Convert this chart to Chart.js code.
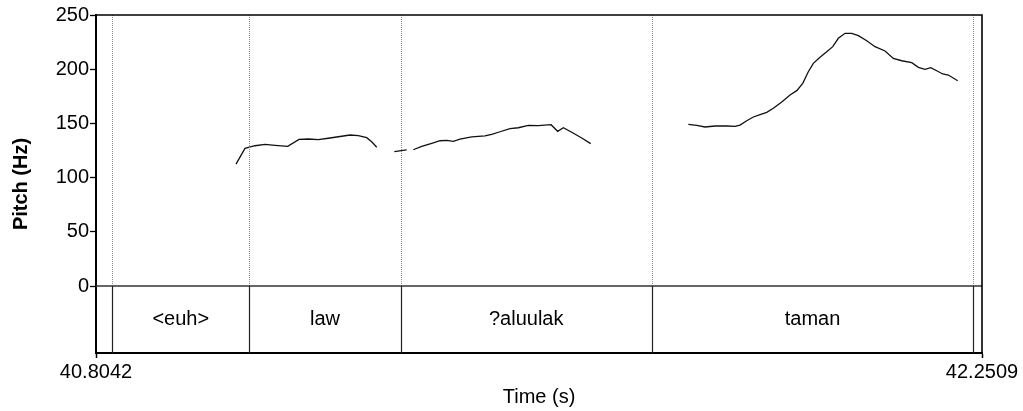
<!DOCTYPE html>
<html>
<head>
<meta charset="utf-8">
<script src="https://cdn.jsdelivr.net/npm/chart.js@4/dist/chart.umd.min.js"></script>
<style>
  html, body { margin: 0; padding: 0; background: #fff; }
  canvas { display: block; }
</style>
</head>
<body>
<canvas id="pitch" width="1023" height="411"></canvas>
<script>
// Visible time window (s)
const timeStart = 40.8042;
const timeEnd = 42.2509;

// Pitch track, one array per voiced stretch: time (s) and F0 (Hz)
const seg1Time = [41.0328, 41.0475, 41.0638, 41.0802, 41.0965, 41.1172, 41.1357, 41.1509, 41.1672, 41.1835, 41.1999, 41.2190, 41.2325, 41.2462, 41.2544, 41.2626];
const seg1Hz   = [112.5, 127.0, 129.4, 130.7, 129.8, 128.9, 135.3, 135.6, 135.0, 136.3, 137.7, 139.3, 138.7, 136.8, 133.1, 128.0];

const seg2Time = [41.2913, 41.3115];
const seg2Hz   = [123.9, 125.5];

const seg3Time = [41.3223, 41.3360, 41.3524, 41.3659, 41.3769, 41.3876, 41.3986, 41.4177, 41.4394, 41.4503, 41.4639, 41.4802, 41.4938, 41.5101, 41.5264, 41.5472, 41.5581, 41.5673, 41.5810, 41.5973, 41.6120];
const seg3Hz   = [125.7, 128.9, 131.6, 134.0, 134.4, 133.5, 135.6, 137.5, 138.4, 139.9, 142.3, 145.1, 146.0, 148.2, 147.9, 148.8, 142.7, 146.0, 141.8, 136.5, 131.3];

const seg4Time = [41.7714, 41.7851, 41.7986, 41.8150, 41.8341, 41.8476, 41.8558, 41.8667, 41.8775, 41.8885, 41.8994, 41.9102, 41.9239, 41.9374, 41.9484, 41.9582, 41.9673, 41.9755, 41.9864, 41.9974, 42.0072, 42.0163, 42.0273, 42.0382, 42.0490, 42.0627, 42.0762, 42.0926, 42.1061, 42.1198, 42.1362, 42.1470, 42.1579, 42.1672, 42.1770, 42.1868, 42.1959, 42.2113];
const seg4Hz   = [149.2, 148.2, 146.7, 147.6, 147.6, 147.3, 148.5, 152.5, 155.9, 158.0, 160.2, 163.9, 169.7, 176.2, 180.2, 187.0, 197.7, 205.4, 211.0, 216.1, 220.8, 228.5, 233.1, 233.1, 230.9, 226.3, 220.8, 216.8, 210.0, 207.8, 206.0, 201.7, 199.9, 201.4, 198.6, 195.6, 194.6, 189.4];

// Word tier: boundary times and the word in each interval between them
const tierBoundaries = [40.8308, 41.0545, 41.3017, 41.7116, 42.2368];
const tierWords = ["<euh>", "law", "?aluulak", "taman"];

// Axis ticks
const pitchTicks = [0, 50, 100, 150, 200, 250];
const timeTicks = [timeStart, timeEnd];

const pitchMax = 250;
const tierBottom = -61.8;   // the tier sits below 0 Hz on the same vertical scale

function toPoints(ts, hz) {
  return ts.map((t, i) => ({ x: t, y: hz[i] }));
}

const segments = [
  toPoints(seg1Time, seg1Hz),
  toPoints(seg2Time, seg2Hz),
  toPoints(seg3Time, seg3Hz),
  toPoints(seg4Time, seg4Hz)
];

const FONT = "'Liberation Sans', Arial, Helvetica, sans-serif";

// Frame, 0-Hz line, interval boundaries and word labels
const tierPlugin = {
  id: 'tierPlugin',
  afterDatasetsDraw(chart) {
    const { ctx, chartArea: a, scales: { x, y } } = chart;
    const y0 = y.getPixelForValue(0);
    const yTop = y.getPixelForValue(pitchMax);
    const yBot = y.getPixelForValue(tierBottom);
    ctx.save();

    // dotted boundary lines through the pitch area
    ctx.strokeStyle = '#8a8a8a';
    ctx.lineWidth = 1;
    ctx.setLineDash([1, 1]);
    tierBoundaries.forEach(t => {
      const px = Math.round(x.getPixelForValue(t)) + 0.5;
      ctx.beginPath();
      ctx.moveTo(px, yTop);
      ctx.lineTo(px, y0);
      ctx.stroke();
    });
    ctx.setLineDash([]);

    // solid boundary lines inside the tier
    ctx.strokeStyle = '#222';
    ctx.lineWidth = 1.2;
    tierBoundaries.forEach(t => {
      const px = Math.round(x.getPixelForValue(t)) + 0.5;
      ctx.beginPath();
      ctx.moveTo(px, y0);
      ctx.lineTo(px, yBot);
      ctx.stroke();
    });

    // 0 Hz line separating the pitch area from the tier
    ctx.strokeStyle = '#333';
    ctx.lineWidth = 1.3;
    ctx.beginPath();
    ctx.moveTo(a.left, y0);
    ctx.lineTo(a.right, y0);
    ctx.stroke();

    // top and right edges of the frame
    ctx.strokeStyle = '#000';
    ctx.lineWidth = 1.6;
    ctx.beginPath();
    ctx.moveTo(a.left, a.top);
    ctx.lineTo(a.right, a.top);
    ctx.lineTo(a.right, a.bottom);
    ctx.stroke();

    // words centred in their intervals
    ctx.fillStyle = '#000';
    ctx.font = '20px ' + FONT;
    ctx.textAlign = 'center';
    ctx.textBaseline = 'middle';
    const yMid = y.getPixelForValue(tierBottom / 2);
    tierWords.forEach((w, i) => {
      const xc = (x.getPixelForValue(tierBoundaries[i]) + x.getPixelForValue(tierBoundaries[i + 1])) / 2;
      ctx.fillText(w, xc, yMid);
    });
    ctx.restore();
  }
};

new Chart(document.getElementById('pitch'), {
  type: 'line',
  data: {
    datasets: segments.map(pts => ({
      data: pts,
      borderColor: '#111',
      borderWidth: 1.3,
      pointRadius: 0,
      tension: 0,
      fill: false
    }))
  },
  options: {
    responsive: false,
    animation: false,
    events: [],
    layout: { padding: { top: 15, right: 41, left: 0, bottom: 0 } },
    plugins: { legend: { display: false }, tooltip: { enabled: false } },
    scales: {
      x: {
        type: 'linear',
        min: timeStart,
        max: timeEnd,
        afterBuildTicks: s => { s.ticks = timeTicks.map(v => ({ value: v })); },
        afterFit: s => { s.height = 58; },
        ticks: {
          autoSkip: false,
          maxRotation: 0,
          color: '#000',
          font: { family: FONT, size: 20 },
          padding: 2,
          callback: v => Number(v).toFixed(4)
        },
        grid: { drawOnChartArea: false, drawTicks: true, tickLength: 5, color: '#000', tickWidth: 1.5 },
        border: { display: true, color: '#000', width: 2 },
        title: {
          display: true,
          text: 'Time (s)',
          color: '#000',
          font: { family: FONT, size: 20 },
          padding: { top: 0, bottom: 2 }
        }
      },
      y: {
        type: 'linear',
        min: tierBottom,
        max: pitchMax,
        afterBuildTicks: s => { s.ticks = pitchTicks.map(v => ({ value: v })); },
        afterFit: s => { s.width = 96; },
        ticks: {
          color: '#000',
          font: { family: FONT, size: 20 },
          padding: 1
        },
        grid: { drawOnChartArea: false, drawTicks: true, tickLength: 6, color: '#000', tickWidth: 1.3 },
        border: { display: true, color: '#000', width: 2 },
        title: {
          display: true,
          text: 'Pitch (Hz)',
          color: '#000',
          font: { family: FONT, size: 20, weight: 'bold' },
          padding: { top: 9, bottom: 0 }
        }
      }
    }
  },
  plugins: [tierPlugin]
});
</script>
</body>
</html>
